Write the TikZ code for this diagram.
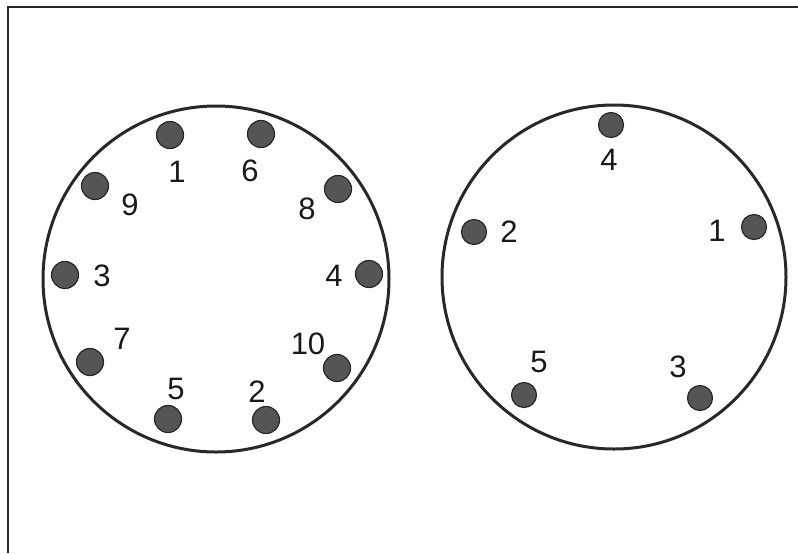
\documentclass[tikz,border=0pt]{standalone}
\usepackage{fontspec}
\setmainfont{Liberation Sans}
\usetikzlibrary{positioning}
\definecolor{rimgray}{RGB}{40,40,40}
\definecolor{pingray}{RGB}{85,85,85}

\begin{document}
\begin{tikzpicture}[x=0.5pt,y=-0.5pt,
    rim/.style={draw=rimgray,line width=1.5pt},
    pin/.style={circle,draw=rimgray,line width=0.6pt,fill=pingray,inner sep=0pt,minimum size=13.5pt},
    smallpin/.style={pin,minimum size=12.5pt},
    num/.style={inner sep=0pt,font=\fontsize{15.5}{18}\selectfont,text=black!90}]
  \useasboundingbox (0,0) rectangle (798,553);
  % frame
  \draw[line width=1pt,rimgray] (8,553) -- (8,7) -- (798,7);
  % left plate, ten pins
  \draw[rim] (216,279) circle[radius=173];
  \foreach \n/\px/\py/\lx/\ly in {1/170/135/177/172, 6/261/134/250/171, 9/95/186/130/205,
      8/338/189/307/209, 3/65/275/102/276, 4/369/274/334/276, 7/90/362/122/339,
      10/337/368/308/344, 5/168/419/176/389, 2/266/420/257/392}{
    \node[pin] (a\n) at (\px,\py) {};
    \node[num] (la\n) at (\lx,\ly) {\n};
  }
  % right plate, five pins
  \draw[rim] (614,277) circle[radius=172];
  \foreach \n/\px/\py/\lx/\ly in {4/611/125/609/160, 2/474/232/509/232, 1/754/227/717/231,
      5/524/395/539/362, 3/700/398/678/367}{
    \node[smallpin] (b\n) at (\px,\py) {};
    \node[num] (lb\n) at (\lx,\ly) {\n};
  }
\end{tikzpicture}
\end{document}
